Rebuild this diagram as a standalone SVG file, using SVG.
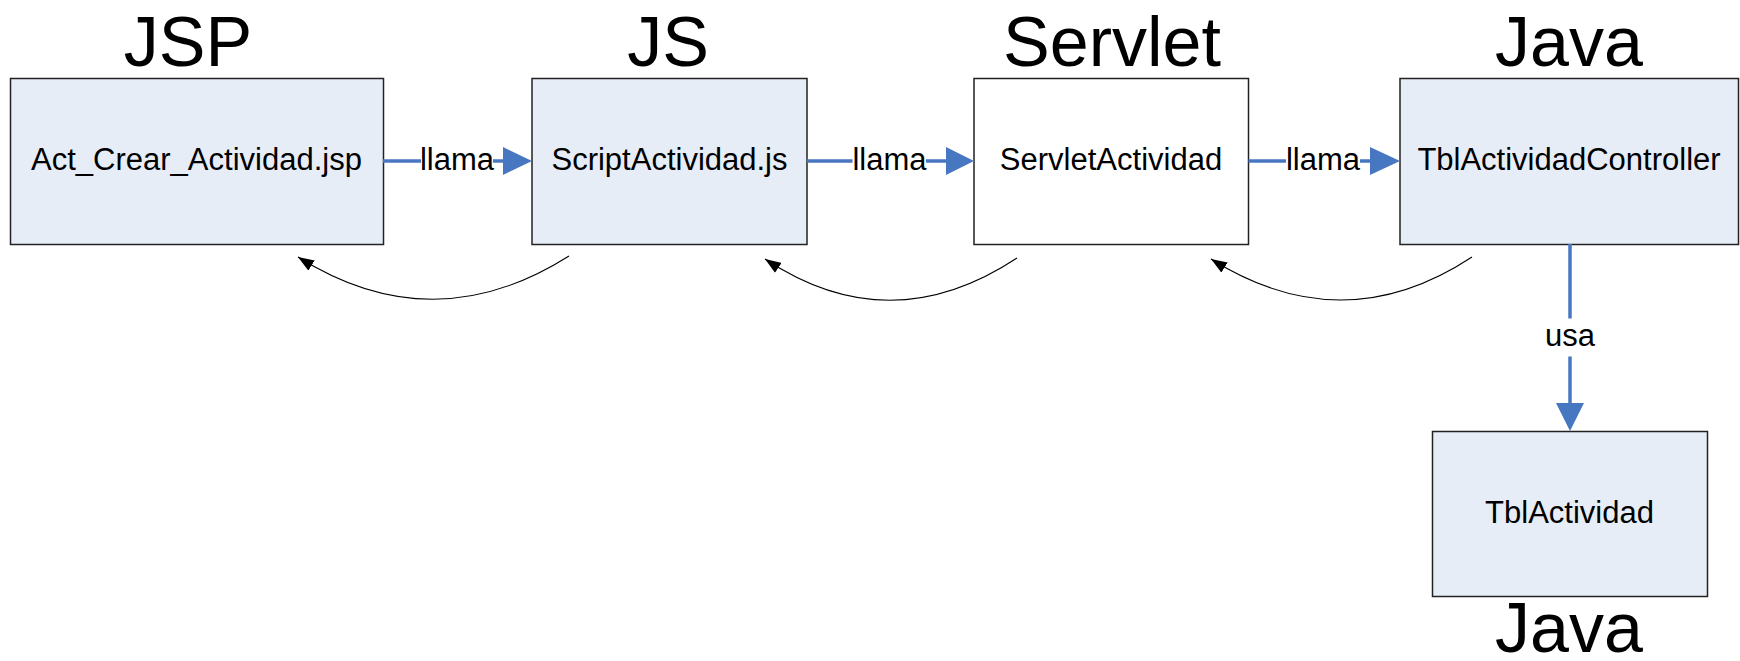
<svg xmlns="http://www.w3.org/2000/svg" width="1740" height="661" viewBox="0 0 1740 661">
<style>
.box{fill:#E7EDF7;stroke:#222;stroke-width:1.5}
.wbox{fill:#fff;stroke:#222;stroke-width:1.5}
.t{font-family:"Liberation Sans",Arial,sans-serif;font-size:31px;fill:#000;text-anchor:middle}
.h{font-family:"Liberation Sans",Arial,sans-serif;font-size:70px;fill:#000;text-anchor:middle}
.blue{stroke:#4877C2;stroke-width:3.5;fill:none}
.head{fill:#4877C2}
.arc{stroke:#000;stroke-width:1.1;fill:none}
.lblbg{fill:#fff}
</style>
<defs>
<marker id="ah" viewBox="0 0 16 12" refX="16" refY="6" markerWidth="16" markerHeight="12" markerUnits="userSpaceOnUse" orient="auto">
<path d="M0,0 L16,6 L0,12 Z" fill="#000"/>
</marker>
</defs>
<g id="titles">
<text class="h" x="188" y="66">JSP</text>
<text class="h" x="668" y="66">JS</text>
<text class="h" x="1112" y="66">Servlet</text>
<text class="h" x="1569" y="66">Java</text>
<text class="h" x="1569" y="652">Java</text>
</g>
<g id="node-jsp">
<rect class="box" x="10.5" y="78.5" width="373" height="166"/>
<text class="t" x="196.5" y="169.5">Act_Crear_Actividad.jsp</text>
</g>
<g id="node-js">
<rect class="box" x="532" y="78.5" width="275" height="166"/>
<text class="t" x="669.5" y="169.5">ScriptActividad.js</text>
</g>
<g id="node-servlet">
<rect class="wbox" x="974" y="78.5" width="274.5" height="166"/>
<text class="t" x="1111" y="169.5">ServletActividad</text>
</g>
<g id="node-controller">
<rect class="box" x="1400" y="78.5" width="338.5" height="166"/>
<text class="t" x="1569" y="169.5">TblActividadController</text>
</g>
<g id="node-tbl">
<rect class="box" x="1432.5" y="431.5" width="275" height="165"/>
<text class="t" x="1569.5" y="522.5">TblActividad</text>
</g>
<g id="connectors">
<line class="blue" x1="383" y1="161" x2="505" y2="161"/>
<polygon class="head" points="503,147 532,161 503,175"/>
<rect class="lblbg" x="421" y="146" width="72" height="28"/>
<text class="t" x="457" y="169.5">llama</text>

<line class="blue" x1="807" y1="161" x2="949" y2="161"/>
<polygon class="head" points="946,147 974,161 946,175"/>
<rect class="lblbg" x="852.5" y="146" width="73.5" height="28"/>
<text class="t" x="889.5" y="169.5">llama</text>

<line class="blue" x1="1248.5" y1="161" x2="1372" y2="161"/>
<polygon class="head" points="1370,147 1400,161 1370,175"/>
<rect class="lblbg" x="1286" y="146" width="74" height="28"/>
<text class="t" x="1323" y="169.5">llama</text>

<line class="blue" x1="1570" y1="244" x2="1570" y2="405"/>
<polygon class="head" points="1556,403 1570,431 1584,403"/>
<rect class="lblbg" x="1545" y="318.5" width="50" height="38"/>
<text class="t" x="1570" y="346">usa</text>

<path class="arc" d="M569,256 Q433,342 298,257" marker-end="url(#ah)"/>
<path class="arc" d="M1017,258 Q890,342 765,259" marker-end="url(#ah)"/>
<path class="arc" d="M1472,257 Q1343,342 1211,259" marker-end="url(#ah)"/>
</g>
</svg>
